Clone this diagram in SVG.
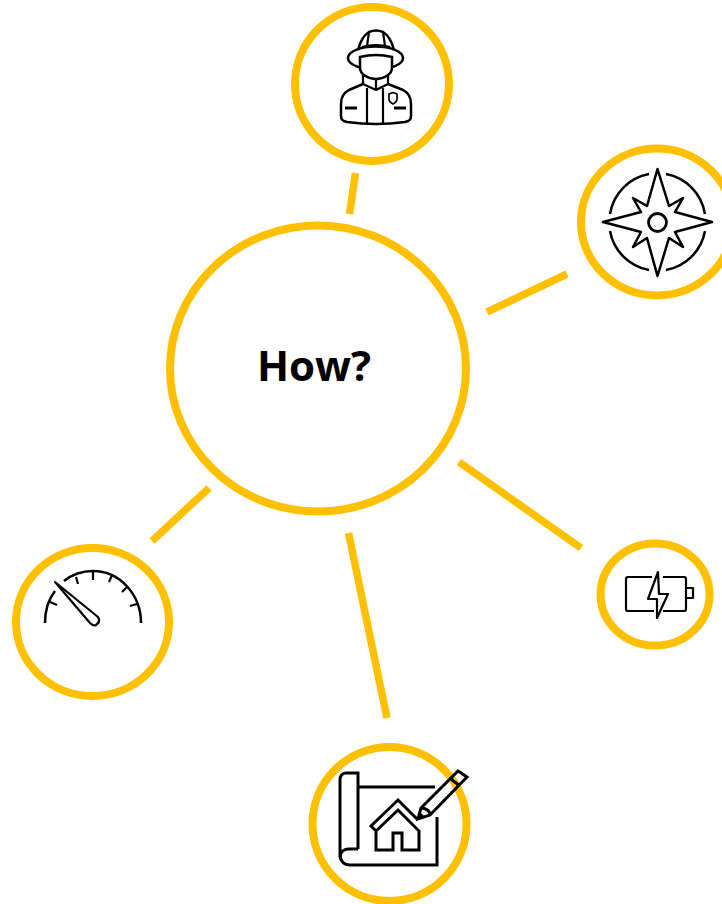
<svg xmlns="http://www.w3.org/2000/svg" width="722" height="904" viewBox="0 0 722 904">
<style>
.ring{fill:#fff;stroke:#ffc000;stroke-width:8}
.link{stroke:#ffc000;stroke-width:7.500;fill:none}
.ic{fill:none;stroke:#000;stroke-width:2.200;stroke-linejoin:round}
.ic3{fill:none;stroke:#000;stroke-width:3;stroke-linejoin:miter}
.face{fill:#fff;stroke:#000;stroke-width:2.500}
text{font-family:"Open Sans","Noto Sans",sans-serif;font-weight:700;font-size:42px;fill:#000}
</style>
<g id="connectors">
<line class="link" x1="355.500" y1="173" x2="349.500" y2="214"/>
<line class="link" x1="567" y1="274" x2="487" y2="312"/>
<line class="link" x1="459" y1="462" x2="581" y2="548"/>
<line class="link" x1="348.500" y1="533" x2="387" y2="718"/>
<line class="link" x1="209" y1="488" x2="152" y2="541"/>
</g>
<g id="center">
<ellipse class="ring" cx="318" cy="368.500" rx="148" ry="143"/>
<text x="314" y="381" text-anchor="middle">How?</text>
</g>
<g id="firefighter">
<circle class="ring" cx="372" cy="84" r="77"/>
<path class="ic" style="stroke-width:2.500" d="M358 50C360 42 364 35 369 32Q376 29 383 32C388 35 392 42 394 50"/>
<path class="ic" d="M369 32L367 46M383 32L385 46M362 47Q376 43 390 47"/>
<ellipse class="ic" cx="375.500" cy="58" rx="27.500" ry="11.500" style="stroke-width:2.500"/>
<path class="face" d="M360 57Q376 53 392 57V68C392 74 384 79 376 79C368 79 360 74 360 68Z"/>
<path class="ic" d="M363 75V84L376 90L388 84V75M376 79V90M367 88V123M383 88V123"/>
<path class="ic" style="stroke-width:2.500" d="M363 84L349 90C343 93 341 98 341 104V116C341 120 343 121 347 122Q376 126 405 122C409 121 411 120 411 116V104C411 98 409 93 403 90L388 84"/>
<path class="ic" style="stroke-width:2.800" d="M345 108H357M394 108H406"/>
<path class="ic" style="stroke-width:1.700" d="M389 94L393 92.500L397 94V99C397 101 395 103 393 104C391 103 389 101 389 99Z"/>
</g>
<g id="compass">
<ellipse class="ring" cx="657" cy="222" rx="76" ry="73.500"/>
<path class="ic" style="stroke-width:2.500" d="M649 174A48.500 48.500 0 0 0 610 214M666 174A48.500 48.500 0 0 1 705 214M610 231A48.500 48.500 0 0 0 649 270M705 231A48.500 48.500 0 0 1 666 270"/>
<path class="ic" style="stroke-width:2.500" d="M657.500 169L669 206L683 198L675 212L712 222L675 232L683 247L669 238L657.500 276L647 238L633 247L641 232L603 222L641 212L633 198L647 206Z"/>
<circle class="ic" style="stroke-width:2.800" cx="657.500" cy="222.500" r="9"/>
</g>
<g id="battery">
<ellipse class="ring" cx="655" cy="594.500" rx="54.500" ry="51"/>
<path class="ic" d="M652 577H628Q626 577 626 579V609Q626 611 628 611H654M663 577H684Q686 577 686 579V609Q686 611 684 611H663"/>
<path class="ic" d="M686 588H693V598H686"/>
<path class="ic" d="M658 572L648 599H657V618L668 594H659Z"/>
</g>
<g id="gauge">
<ellipse class="ring" cx="92.500" cy="622" rx="76.500" ry="74"/>
<path class="ic" style="stroke-width:2.500" d="M45 623C45 612 48 600 55 591M64 581C74 573 84 571 93 571C120 571 141 595 141 623"/>
<path class="ic" d="M50 602L57 605M76 577L78 584M93 571V580M112 575L109 582M128 586L122 592M137 604L130 606"/>
<path class="ic" d="M55 582L98 617C100 620 99 623 96 625C94 626 92 625 90 623Z"/>
</g>
<g id="blueprint">
<circle class="ring" cx="389.500" cy="824" r="77"/>
<path class="ic3" d="M358 849V773H346C342 773 340 776 340 780V855C340 861 344 865 350 865H437V817"/>
<path class="ic3" d="M358 787H435M340 857C340 852 344 849 348 849H358"/>
<path class="ic3" d="M376 831L371 826L398 800L417 819M376 831L398 810L419 831V850H402V833H393V850H376Z"/>
<path class="ic3" d="M418 819L421 808L458 771L467 777L430 815Z M421 808C426 808 430 811 430 815M451 779L460 786"/>
<path d="M417 820L420 812L425 817Z"/>
</g>
</svg>
